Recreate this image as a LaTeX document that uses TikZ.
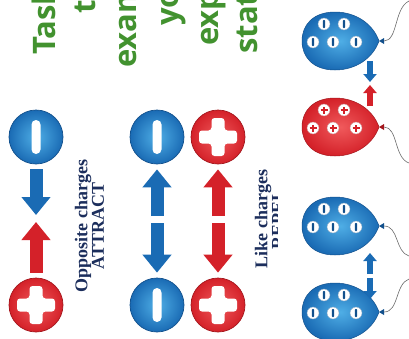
\documentclass[tikz,border=0pt]{standalone}
\usepackage{fontspec}
\setmainfont{Liberation Serif}
\newfontfamily\titlefont{Open Sans}
\usetikzlibrary{arrows.meta}
\definecolor{qblue}{HTML}{1A6BB4}
\definecolor{qbluelt}{HTML}{4FAEE6}
\definecolor{qbluedk}{HTML}{12508C}
\definecolor{qred}{HTML}{D42129}
\definecolor{qredlt}{HTML}{F05A5C}
\definecolor{qreddk}{HTML}{A3161C}
\definecolor{labnavy}{HTML}{1C2E5C}
\definecolor{titlegreen}{HTML}{42922F}
\definecolor{stringgray}{HTML}{6A6A6A}
\tikzset{
  minusq/.style={circle,minimum size=54pt,inner sep=0pt,draw=qbluedk,line width=0.7pt,
    inner color=qbluelt,outer color=qblue,
    path picture={\fill[white,rounded corners=4.5pt] (path picture bounding box.center)
      ++(-4.5pt,-17pt) rectangle ++(9pt,34pt);}},
  plusq/.style={circle,minimum size=54pt,inner sep=0pt,draw=qreddk,line width=0.7pt,
    inner color=qredlt,outer color=qred,
    path picture={\fill[white,rounded corners=3pt] (path picture bounding box.center)
      ++(-6.5pt,-19pt) -- ++(13pt,0) -- ++(0,12.5pt) -- ++(12.5pt,0) -- ++(0,13pt)
      -- ++(-12.5pt,0) -- ++(0,12.5pt) -- ++(-13pt,0) -- ++(0,-12.5pt) -- ++(-12.5pt,0)
      -- ++(0,-13pt) -- ++(12.5pt,0) -- cycle;}},
  chgm/.style={circle,minimum size=12pt,inner sep=0pt,fill=white,draw=qbluedk!50,line width=0.4pt,
    path picture={\fill[qbluedk,rounded corners=0.8pt] (path picture bounding box.center) ++(-1.1pt,-4pt) rectangle ++(2.2pt,8pt);}},
  chgp/.style={circle,minimum size=12pt,inner sep=0pt,fill=white,draw=qreddk!50,line width=0.4pt,
    path picture={\draw[qred,line width=1.6pt] (path picture bounding box.center) ++(-3.5pt,0) -- ++(7pt,0)
      (path picture bounding box.center) ++(0,-3.5pt) -- ++(0,7pt);}},
  bluearr/.style={qblue,line width=13pt,-{Triangle[length=18pt,width=28pt]}},
  redarr/.style={qred,line width=13pt,-{Triangle[length=18pt,width=28pt]}},
  sbluearr/.style={qblue,line width=6pt,-{Triangle[length=8pt,width=13pt]}},
  sredarr/.style={qred,line width=6pt,-{Triangle[length=8pt,width=13pt]}},
  strg/.style={stringgray,line width=0.6pt},
  lab/.style={font=\bfseries\fontsize{18}{16.5}\selectfont,text=labnavy,align=center,rotate=90},
  titl/.style={font=\titlefont\bfseries\fontsize{31}{40}\selectfont,text=titlegreen,
    rotate=90,anchor=base west,inner sep=0pt},
}
\begin{document}
\begin{tikzpicture}[x=1pt,y=-1pt]
  \useasboundingbox (0,0) rectangle (409,338);
  \clip (0,0) rectangle (409,338);
  % sarlavha
  \foreach \bx/\sy/\tx [count=\i] in {55/55/Task,95/14/t,136/68/exam,178/26/yo,218/46/exp,257/54/stat}
    \node[titl] (tt\i) at (\bx,\sy) {\tx};
  % zaryadlar
  \node[minusq] (qa1) at (36,137) {};
  \node[plusq]  (qa2) at (36,305) {};
  \node[minusq] (qb1) at (157,137) {};
  \node[minusq] (qb2) at (157,305) {};
  \node[plusq]  (qc1) at (218,137) {};
  \node[plusq]  (qc2) at (218,305) {};
  \coordinate (ka1) at (36,215);
  \coordinate (ka2) at (36,222);
  \coordinate (kb1) at (157,216);
  \coordinate (kb2) at (157,223);
  \coordinate (kc1) at (218,216);
  \coordinate (kc2) at (218,223);
  \draw[bluearr] ([yshift=-5pt]qa1.south) -- (ka1);
  \draw[redarr]  ([yshift=5pt]qa2.north) -- (ka2);
  \draw[bluearr] (kb1) -- ([yshift=-5pt]qb1.south);
  \draw[bluearr] (kb2) -- ([yshift=5pt]qb2.north);
  \draw[redarr]  (kc1) -- ([yshift=-5pt]qc1.south);
  \draw[redarr]  (kc2) -- ([yshift=5pt]qc2.north);
  \node[lab] (opp) at (89.5,226) {Opposite charges\\ATTRACT};
  \begin{scope}
    \clip (0,0) rectangle (277,338);
    \node[lab] (like) at (269.5,219) {Like charges\\REPEL};
  \end{scope}
  % sharlar
  \foreach \ky/\bc/\bl/\bd/\sg [count=\i] in {41/qblue/qbluelt/qbluedk/m,127/qred/qredlt/qreddk/p,
      226/qblue/qbluelt/qbluedk/m,312/qblue/qbluelt/qbluedk/m}{
    \begin{scope}[shift={(379,\ky)}]
      \shade[inner color=\bl,outer color=\bc,draw=\bd,line width=0.5pt]
        (0,0) .. controls (-6,-17) and (-23,-29) .. (-44,-29)
        .. controls (-66,-29) and (-77,-16) .. (-77,0)
        .. controls (-77,16) and (-66,29) .. (-44,29)
        .. controls (-23,29) and (-6,17) .. (0,0) -- cycle;
      \fill[\bd] (0,0) -- (5,-3) -- (5,3) -- cycle;
      \foreach \cx/\cy [count=\j] in {-55/-17,-35/-17,-66/1,-46/1,-23/1}
        \node[chg\sg] (c\i-\j) at (\cx,\cy) {};
    \end{scope}
  }
  \coordinate (k1) at (384,41);  \coordinate (e1) at (409,1);
  \coordinate (k2) at (384,127); \coordinate (e2) at (409,163);
  \coordinate (k3) at (384,226); \coordinate (e3) at (409,256);
  \coordinate (k4) at (384,312); \coordinate (e4) at (409,279);
  \draw[strg] (k1) .. controls (398,41) and (394,8) .. (e1);
  \draw[strg] (k2) .. controls (398,127) and (394,158) .. (e2);
  \draw[strg] (k3) .. controls (399,226) and (395,252) .. (e3);
  \draw[strg] (k4) .. controls (399,312) and (395,284) .. (e4);
  % kichik strelkalar
  \coordinate (s1) at (370,61);  \coordinate (t1) at (370,82);
  \coordinate (s2) at (370,106); \coordinate (t2) at (370,85);
  \coordinate (s3) at (370,274); \coordinate (t3) at (370,253);
  \coordinate (s4) at (370,278); \coordinate (t4) at (370,299);
  \draw[sbluearr] (s1) -- (t1);
  \draw[sredarr]  (s2) -- (t2);
  \draw[sbluearr] (s3) -- (t3);
  \draw[sbluearr] (s4) -- (t4);
\end{tikzpicture}
\end{document}
